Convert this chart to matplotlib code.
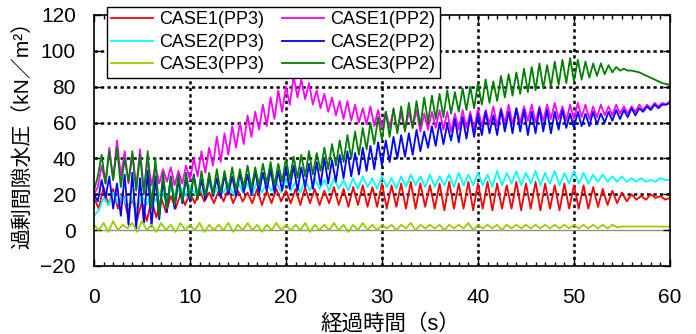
import numpy as np
import matplotlib.pyplot as plt
from matplotlib.ticker import MultipleLocator

plt.rcParams['font.family'] = ['Liberation Sans', 'Noto Sans CJK JP']

# peak / trough values
# PP3 gauges: peaks at t = 0, 1, ..., 60 s, troughs at t = 0.5, 1.5, ..., 59.5 s
case1_pp3_hi = [18, 24, 23, 21, 18, 16, 17, 18, 19, 20,
                21, 22, 21, 22, 23, 22, 21, 23, 22, 23,
                22, 23, 24, 23, 22, 24, 23, 24, 25, 24,
                26, 25, 26, 27, 26, 25, 26, 27, 26, 27,
                26, 27, 26, 25, 27, 26, 27, 26, 25, 26,
                25, 25, 24, 23, 22, 21, 20, 19, 20, 19,
                18]
case1_pp3_lo = [12, 14, 12, 9, 6, 5, 7, 10, 12, 14,
                15, 16, 15, 16, 15, 16, 15, 14, 15, 16,
                15, 14, 15, 14, 15, 14, 13, 14, 13, 13,
                12, 13, 12, 12, 13, 12, 11, 12, 12, 11,
                12, 11, 12, 12, 11, 12, 11, 12, 11, 12,
                12, 12, 13, 14, 15, 16, 17, 17, 18, 17]

case2_pp3_hi = [8, 18, 21, 19, 18, 19, 20, 22, 23, 24,
                25, 24, 26, 25, 26, 27, 26, 27, 26, 27,
                28, 27, 28, 29, 28, 29, 28, 29, 30, 29,
                30, 29, 30, 31, 30, 31, 30, 31, 32, 31,
                32, 31, 33, 32, 33, 32, 33, 32, 33, 32,
                33, 32, 31, 31, 30, 30, 29, 29, 28, 29,
                28]
case2_pp3_lo = [11, 14, 15, 13, 12, 14, 16, 17, 19, 19,
                20, 19, 20, 21, 20, 21, 20, 21, 22, 21,
                22, 21, 22, 23, 22, 23, 22, 23, 24, 23,
                24, 23, 24, 25, 24, 24, 25, 24, 25, 25,
                25, 24, 25, 26, 25, 26, 25, 26, 25, 26,
                26, 26, 27, 27, 27, 27, 27, 27, 27, 28]

case3_pp3_hi = [3, 4, 5, 3, 4, 5, 3, 4, 3, 4,
                3, 4, 3, 3, 4, 3, 4, 3, 3, 4,
                3, 3, 4, 3, 3, 4, 3, 3, 4, 3,
                3, 3, 3, 4, 3, 3, 3, 3, 3, 4,
                3, 3, 3, 3, 3, 3, 3, 3, 3, 3,
                3, 3, 3, 3, 3, 2, 2, 2, 2, 2,
                2]
case3_pp3_lo = [0, -1, 0, 1, -1, 0, -1, 0, -1, 0,
                0, -1, 0, 0, -1, 0, 0, -1, 0, 0,
                0, 0, -1, 0, 0, 0, -1, 0, 0, 0,
                1, 0, 1, 0, 1, 1, 0, 1, 1, 0,
                1, 1, 0, 1, 1, 1, 1, 1, 1, 1,
                1, 1, 1, 1, 1.5, 2, 2, 2, 2, 2]

# PP2 gauges oscillate faster: peaks at t = 0, 0.8, ..., 60 s, troughs in between
case1_pp2_hi = [20, 36, 46, 50, 44, 42, 45, 40, 36, 34,
                35, 33, 36, 40, 44, 46, 52, 54, 58, 60,
                64, 66, 70, 74, 78, 80, 86, 84, 82, 78,
                76, 74, 72, 72, 70, 68, 69, 67, 66, 67,
                65, 66, 67, 65, 66, 67, 66, 65, 67, 66,
                68, 67, 69, 68, 70, 68, 69, 70, 69, 70,
                71, 69, 70, 71, 70, 69, 70, 69, 70, 69,
                69, 70, 70, 71, 71, 72]
case1_pp2_lo = [24, 26, 28, 30, 26, 24, 22, 25, 26, 27,
                25, 26, 28, 30, 32, 36, 38, 42, 46, 48,
                52, 56, 58, 62, 66, 70, 74, 73, 70, 68,
                66, 64, 62, 61, 60, 59, 58, 57, 57, 56,
                56, 57, 55, 56, 57, 56, 55, 56, 57, 56,
                58, 59, 58, 60, 59, 60, 61, 60, 61, 62,
                62, 61, 62, 63, 62, 63, 64, 64, 65, 65,
                66, 67, 68, 69, 70]

case2_pp2_hi = [20, 28, 30, 26, 31, 32, 29, 33, 30, 28,
                30, 28, 29, 31, 28, 30, 29, 31, 30, 32,
                31, 33, 32, 34, 33, 35, 36, 35, 37, 38,
                40, 39, 42, 44, 43, 46, 47, 49, 50, 52,
                53, 54, 56, 55, 58, 60, 59, 62, 63, 64,
                65, 66, 64, 67, 66, 68, 67, 66, 68, 67,
                66, 67, 65, 66, 65, 66, 65, 66, 67, 67,
                68, 68, 69, 70, 70, 71]
case2_pp2_lo = [16, 18, 12, 8, 3, 1, 4, 2, 6, 10,
                12, 15, 16, 18, 17, 19, 18, 20, 19, 21,
                20, 21, 22, 21, 22, 23, 22, 24, 23, 25,
                26, 27, 29, 30, 31, 33, 34, 36, 38, 40,
                41, 42, 44, 46, 47, 48, 50, 49, 51, 52,
                53, 54, 53, 55, 54, 55, 53, 54, 55, 54,
                56, 57, 57, 58, 58, 59, 60, 61, 62, 63,
                64, 66, 67, 68, 70]

case3_pp2_hi = [22, 42, 44, 46, 40, 44, 42, 44, 40, 32,
                30, 31, 32, 30, 33, 32, 34, 33, 35, 34,
                36, 35, 37, 38, 37, 40, 41, 42, 44, 43,
                46, 48, 50, 53, 55, 57, 60, 63, 66, 68,
                69, 71, 72, 74, 75, 76, 78, 77, 79, 80,
                82, 84, 83, 86, 87, 88, 90, 91, 93, 92,
                94, 95, 96, 95, 94, 93, 93, 92, 91, 90,
                89, 88, 86, 84, 82, 81]
case3_pp2_lo = [30, 26, 28, 24, 27, 22, 20, 12, 8, 12,
                14, 16, 18, 17, 19, 20, 21, 22, 22, 24,
                23, 25, 26, 25, 27, 28, 29, 30, 31, 33,
                34, 36, 38, 40, 42, 45, 48, 50, 52, 54,
                55, 57, 58, 60, 62, 63, 65, 66, 67, 68,
                70, 71, 72, 74, 75, 76, 77, 78, 79, 80,
                81, 82, 83, 84, 85, 86, 87, 88, 89, 89,
                88.5, 87, 85, 83, 81.5]

labels = ['CASE1(PP3)', 'CASE1(PP2)', 'CASE2(PP3)',
          'CASE2(PP2)', 'CASE3(PP3)', 'CASE3(PP2)']
colors = ['#ff0000', '#ff00ff', '#00ffff', '#0000ff', '#99cc00', '#008000']


def zigzag(hi, lo):
    v = np.empty(len(hi) + len(lo))
    v[0::2] = hi
    v[1::2] = lo
    return v


series = [zigzag(case1_pp3_hi, case1_pp3_lo), zigzag(case1_pp2_hi, case1_pp2_lo),
          zigzag(case2_pp3_hi, case2_pp3_lo), zigzag(case2_pp2_hi, case2_pp2_lo),
          zigzag(case3_pp3_hi, case3_pp3_lo), zigzag(case3_pp2_hi, case3_pp2_lo)]

fig = plt.figure(figsize=(6.96, 3.34), dpi=100)
ax = fig.add_axes([0.135, 0.2036, 0.8276, 0.7515])

grid_kw = dict(color='black', lw=1.8, linestyle=(0, (1.3, 1.3)), zorder=1)
for gx in [10, 20, 30, 40, 50]:
    ax.axvline(gx, **grid_kw)
for gy in [20, 40, 60, 80, 100]:
    ax.axhline(gy, **grid_kw)
ax.axhline(0, color='#909090', lw=1.0, zorder=1)

handles = {}
for y, lab, c in zip(series, labels, colors):
    t = np.linspace(0, 60, len(y))
    handles[lab], = ax.plot(t, y, color=c, lw=1.3, label=lab, zorder=2)

ax.set_xlim(0, 60)
ax.set_ylim(-20, 120)
ax.xaxis.set_major_locator(MultipleLocator(10))
ax.xaxis.set_minor_locator(MultipleLocator(1))
ax.yaxis.set_major_locator(MultipleLocator(20))
ax.tick_params(which='both', direction='in', top=True, right=True, color='black')
ax.tick_params(which='major', length=5, width=1)
ax.tick_params(which='minor', length=3, width=1)
ax.tick_params(axis='x', labelsize=15, pad=16)
ax.tick_params(axis='y', labelsize=15, pad=13)
for s in ax.spines.values():
    s.set_linewidth(1.2)
    s.set_color('black')

ax.set_xlabel('経過時間（s）', fontsize=15.5)
ax.xaxis.set_label_coords(0.514, -0.19)
ax.set_ylabel('過剰間隙水圧（kN／m²）', fontsize=15)
ax.yaxis.set_label_coords(-0.108, 0.54)

order = ['CASE1(PP3)', 'CASE2(PP3)', 'CASE3(PP3)',
         'CASE1(PP2)', 'CASE2(PP2)', 'CASE3(PP2)']
leg = ax.legend([handles[k] for k in order], order, ncol=2, fontsize=13,
                loc='upper left', bbox_to_anchor=(0.0226, 1.032), borderaxespad=0,
                frameon=True, fancybox=False, framealpha=1, edgecolor='black',
                handlelength=2.3, handletextpad=0.35, columnspacing=1.0,
                labelspacing=0.3, borderpad=0.25)
leg.get_frame().set_linewidth(1.0)
leg.set_zorder(5)

fig.savefig('out.png', dpi=100)
